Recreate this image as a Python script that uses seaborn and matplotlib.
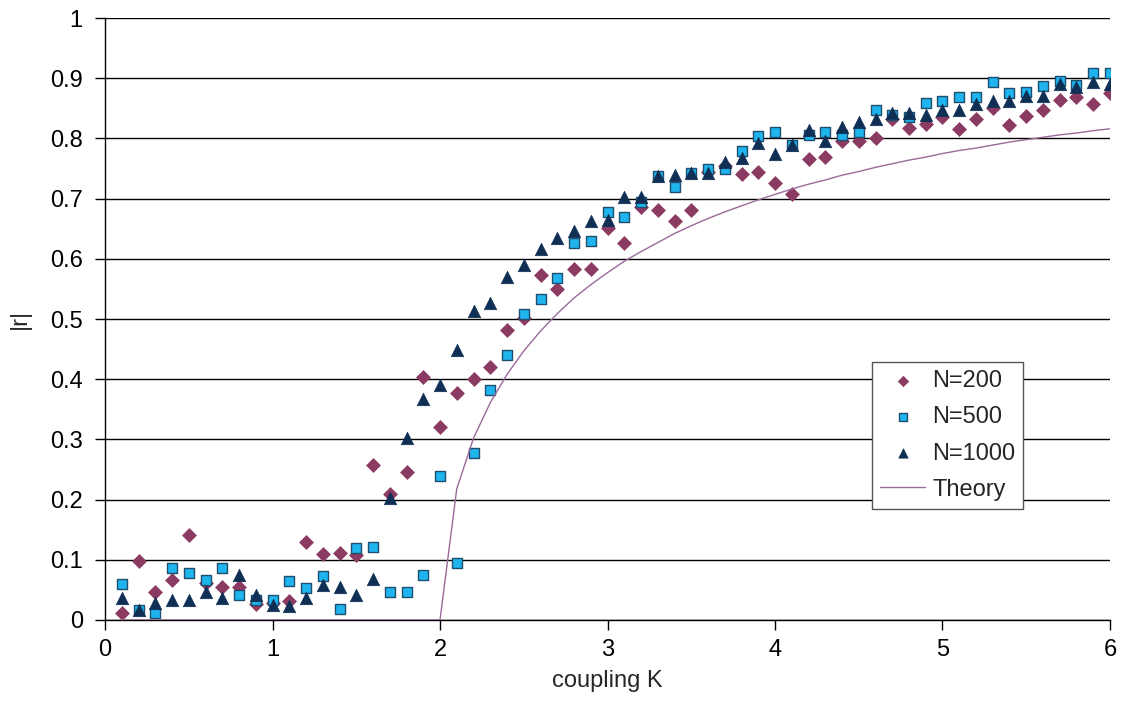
import numpy as np
import pandas as pd
import matplotlib
matplotlib.use("Agg")
import matplotlib.pyplot as plt
import seaborn as sns
from matplotlib.ticker import FuncFormatter, MultipleLocator

# coupling strength grid
coupling = [0.1, 0.2, 0.3, 0.4, 0.5, 0.6, 0.7, 0.8, 0.9, 1.0,
            1.1, 1.2, 1.3, 1.4, 1.5, 1.6, 1.7, 1.8, 1.9, 2.0,
            2.1, 2.2, 2.3, 2.4, 2.5, 2.6, 2.7, 2.8, 2.9, 3.0,
            3.1, 3.2, 3.3, 3.4, 3.5, 3.6, 3.7, 3.8, 3.9, 4.0,
            4.1, 4.2, 4.3, 4.4, 4.5, 4.6, 4.7, 4.8, 4.9, 5.0,
            5.1, 5.2, 5.3, 5.4, 5.5, 5.6, 5.7, 5.8, 5.9, 6.0]

r_n200 = [0.012, 0.098, 0.046, 0.067, 0.142, 0.062, 0.054, 0.055, 0.026, 0.028,
          0.031, 0.129, 0.109, 0.111, 0.108, 0.257, 0.209, 0.246, 0.404, 0.321,
          0.377, 0.400, 0.421, 0.482, 0.502, 0.573, 0.550, 0.583, 0.583, 0.652,
          0.626, 0.686, 0.681, 0.663, 0.681, 0.744, 0.755, 0.741, 0.744, 0.726,
          0.708, 0.766, 0.769, 0.795, 0.795, 0.800, 0.833, 0.817, 0.824, 0.835,
          0.815, 0.832, 0.850, 0.823, 0.837, 0.848, 0.864, 0.869, 0.858, 0.875]

r_n500 = [0.060, 0.017, 0.012, 0.086, 0.078, 0.067, 0.086, 0.041, 0.033, 0.033,
          0.064, 0.053, 0.073, 0.019, 0.119, 0.122, 0.046, 0.046, 0.075, 0.239,
          0.095, 0.278, 0.382, 0.441, 0.509, 0.534, 0.568, 0.627, 0.630, 0.677,
          0.670, 0.695, 0.738, 0.720, 0.743, 0.750, 0.749, 0.779, 0.804, 0.811,
          0.789, 0.806, 0.811, 0.806, 0.810, 0.848, 0.839, 0.835, 0.859, 0.863,
          0.869, 0.869, 0.893, 0.875, 0.878, 0.887, 0.895, 0.889, 0.909, 0.909]

r_n1000 = [0.037, 0.017, 0.028, 0.034, 0.034, 0.046, 0.036, 0.074, 0.042, 0.025,
           0.023, 0.036, 0.058, 0.054, 0.042, 0.068, 0.203, 0.302, 0.367, 0.390,
           0.449, 0.514, 0.526, 0.570, 0.590, 0.616, 0.634, 0.647, 0.663, 0.664,
           0.702, 0.702, 0.738, 0.740, 0.742, 0.742, 0.761, 0.767, 0.793, 0.775,
           0.789, 0.814, 0.796, 0.819, 0.828, 0.832, 0.842, 0.843, 0.839, 0.847,
           0.848, 0.857, 0.863, 0.863, 0.870, 0.870, 0.891, 0.885, 0.893, 0.890]

r_theory = [0.0, 0.0, 0.0, 0.0, 0.0, 0.0, 0.0, 0.0, 0.0, 0.0,
            0.0, 0.0, 0.0, 0.0, 0.0, 0.0, 0.0, 0.0, 0.0, 0.0,
            0.218, 0.302, 0.361, 0.408, 0.447, 0.480, 0.509, 0.535, 0.557, 0.577,
            0.596, 0.612, 0.627, 0.642, 0.655, 0.667, 0.678, 0.688, 0.698, 0.707,
            0.716, 0.724, 0.731, 0.739, 0.745, 0.752, 0.758, 0.764, 0.769, 0.775,
            0.780, 0.784, 0.789, 0.794, 0.798, 0.802, 0.806, 0.809, 0.813, 0.816]

sns.set_theme(style="white")
plt.rcParams["font.family"] = ["Liberation Sans", "DejaVu Sans"]

df = pd.DataFrame({"K": coupling, "N=200": r_n200, "N=500": r_n500,
                   "N=1000": r_n1000, "Theory": r_theory})

fig = plt.figure(figsize=(11.22, 7.23), dpi=100)
ax = fig.add_axes([0.0936, 0.1425, 0.8957, 0.8325])

# horizontal grid lines like the Excel original
ax.set_axisbelow(True)
ax.yaxis.grid(True, color="black", linewidth=1.0)
ax.xaxis.grid(False)

sns.scatterplot(data=df, x="K", y="N=200", ax=ax, marker="D", s=50,
                color="#8B3A62", edgecolor="#8B3A62", linewidth=0.5, label="N=200", zorder=3)
sns.scatterplot(data=df, x="K", y="N=500", ax=ax, marker="s", s=62,
                color="#1EB4EE", edgecolor="#1F4E6E", linewidth=1.0, label="N=500", zorder=3)
sns.scatterplot(data=df, x="K", y="N=1000", ax=ax, marker="^", s=80,
                color="#0F2F55", edgecolor="#0F2F55", linewidth=0.5, label="N=1000", zorder=3)
sns.lineplot(data=df, x="K", y="Theory", ax=ax, color="#9A6A9A",
             linewidth=1.0, label="Theory", zorder=4)

ax.set_xlim(0, 6)
ax.set_ylim(0, 1)
ax.xaxis.set_major_locator(MultipleLocator(1))
ax.yaxis.set_major_locator(MultipleLocator(0.1))
ax.yaxis.set_major_formatter(FuncFormatter(lambda v, p: f"{v:.1f}".rstrip("0").rstrip(".") if v else "0"))

for side in ["top", "right"]:
    ax.spines[side].set_visible(False)
for side in ["left", "bottom"]:
    ax.spines[side].set_color("black")
    ax.spines[side].set_linewidth(1.0)

ax.tick_params(axis="both", which="major", labelsize=17, colors="black",
               direction="out", length=7, width=1.0, left=True, bottom=True)
ax.tick_params(axis="y", pad=9)
ax.tick_params(axis="x", pad=7)

ax.set_xlabel("coupling K", fontsize=17, labelpad=6)
ax.set_ylabel("|r|", fontsize=17, labelpad=14)

leg = ax.legend(loc="upper left", bbox_to_anchor=(0.763, 0.4286), borderaxespad=0,
                fontsize=17, frameon=True, fancybox=False, framealpha=1,
                edgecolor="#555555", markerscale=0.75,
                handlelength=1.9, handletextpad=0.3, borderpad=0.35, labelspacing=0.6)
leg.get_frame().set_linewidth(1.0)

fig.savefig("out.png", dpi=100, facecolor="white")
